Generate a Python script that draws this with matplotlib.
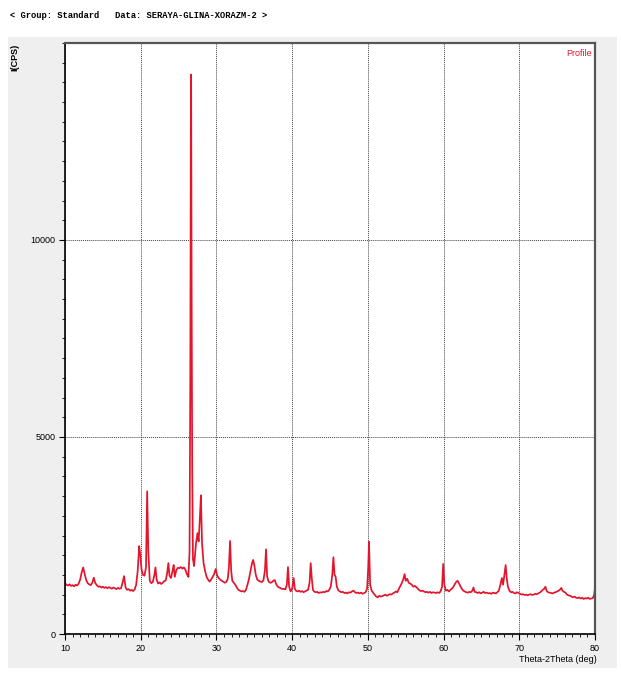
import matplotlib
matplotlib.use("Agg")
import matplotlib.pyplot as plt
import matplotlib.patches as mpatches
from matplotlib.ticker import MultipleLocator

# ---------------------------- data ----------------------------
two_theta = [
    10.0, 10.2, 10.4, 10.6, 10.8, 11.0, 11.2, 11.4, 11.6, 11.8,
    12.0, 12.2, 12.4, 12.6, 12.8, 13.0, 13.2, 13.4, 13.6, 13.8, 14.0, 14.2, 14.4,
    14.6, 14.8, 15.0, 15.2, 15.4, 15.6, 15.8, 16.0, 16.2, 16.4, 16.6, 16.8, 17.0, 17.2, 17.4,
    17.6, 17.8, 18.0, 18.2, 18.4, 18.6, 18.8, 19.0, 19.2, 19.4, 19.6,
    19.8, 19.95, 20.1, 20.3, 20.5, 20.7, 20.85, 21.0, 21.2, 21.4,
    21.6, 21.8, 21.95, 22.1, 22.3, 22.5, 22.7, 22.9, 23.1, 23.3,
    23.5, 23.65, 23.8, 24.0, 24.2, 24.35, 24.5, 24.7, 24.9, 25.1, 25.3, 25.5, 25.7, 25.9, 26.1, 26.3,
    26.45, 26.55, 26.62, 26.66, 26.72, 26.8, 26.9, 27.05, 27.3, 27.5, 27.65, 27.8, 27.95,
    28.1, 28.3, 28.5, 28.7, 28.9, 29.1,
    29.3, 29.5, 29.7, 29.9, 30.1, 30.3, 30.5, 30.7, 30.9, 31.1, 31.3, 31.5,
    31.65, 31.8, 31.95, 32.1, 32.3, 32.5, 32.7, 32.9, 33.1, 33.3, 33.5, 33.7, 33.9,
    34.1, 34.3, 34.5, 34.7, 34.85, 35.0, 35.2, 35.4, 35.6, 35.8, 36.0, 36.2,
    36.4, 36.55, 36.7, 36.9, 37.1, 37.3, 37.5, 37.7, 37.9, 38.1, 38.3, 38.5, 38.7, 38.9, 39.1,
    39.3, 39.45, 39.6, 39.8, 40.0, 40.2, 40.35, 40.5, 40.7, 40.9, 41.1, 41.3, 41.5, 41.7, 41.9, 42.1, 42.3,
    42.45, 42.6, 42.75, 42.9, 43.1, 43.3, 43.5, 43.7, 43.9, 44.1, 44.3, 44.5, 44.7, 44.9, 45.1, 45.3,
    45.45, 45.6, 45.75, 45.9, 46.1, 46.3, 46.5, 46.7, 46.9, 47.1, 47.3, 47.5,
    47.7, 47.9, 48.1, 48.3, 48.5, 48.7, 48.9, 49.1, 49.3, 49.5, 49.7, 49.9,
    50.05, 50.15, 50.3, 50.5, 50.7, 50.9, 51.1, 51.3, 51.5, 51.7, 51.9, 52.1,
    52.3, 52.5, 52.7, 52.9, 53.1, 53.3, 53.5, 53.7, 53.9, 54.1, 54.3, 54.5,
    54.7, 54.85, 55.0, 55.2, 55.4, 55.6, 55.8, 56.0, 56.2, 56.4, 56.6, 56.8, 57.0,
    57.2, 57.4, 57.6, 57.8, 58.0, 58.2, 58.4, 58.6, 58.8, 59.0, 59.2, 59.4, 59.6,
    59.8, 59.95, 60.1, 60.3, 60.5, 60.7, 60.9, 61.1, 61.3, 61.5, 61.7, 61.85, 62.0,
    62.2, 62.4, 62.6, 62.8, 63.0, 63.2, 63.4, 63.6, 63.8, 63.95, 64.1, 64.3,
    64.5, 64.7, 64.9, 65.1, 65.3, 65.5, 65.7, 65.9, 66.1, 66.3, 66.5, 66.7, 66.9, 67.1, 67.3, 67.5,
    67.7, 67.85, 68.0, 68.2, 68.35, 68.5, 68.7, 68.9, 69.1, 69.3, 69.5, 69.7, 69.9,
    70.1, 70.3, 70.5, 70.7, 70.9, 71.1, 71.3, 71.5, 71.7, 71.9, 72.1, 72.3, 72.5, 72.7, 72.9, 73.1, 73.3,
    73.45, 73.6, 73.8, 74.0, 74.2, 74.4, 74.6, 74.8, 75.0, 75.2, 75.4, 75.55, 75.7, 75.9, 76.1, 76.3,
    76.5, 76.7, 76.9,
    77.1, 77.3, 77.5, 77.7, 77.9, 78.1, 78.3, 78.5, 78.7, 78.9, 79.1, 79.3, 79.5, 79.7, 79.9, 80.0,
]
intensity = [
    1290, 1250, 1230, 1260, 1220, 1240, 1210, 1250, 1230, 1280,
    1380, 1560, 1690, 1520, 1370, 1290, 1260, 1240, 1300, 1430, 1290, 1240, 1200,
    1210, 1180, 1200, 1170, 1190, 1160, 1190, 1170, 1150, 1180, 1160, 1140, 1170, 1150, 1160,
    1300, 1470, 1180, 1120, 1140, 1100, 1120, 1090, 1130, 1250, 1600,
    2230, 2000, 1650, 1500, 1480, 1700, 3620, 2100, 1350, 1290,
    1320, 1500, 1690, 1380, 1280, 1310, 1270, 1300, 1340, 1360,
    1550, 1800, 1480, 1420, 1600, 1750, 1450, 1620, 1680, 1670, 1700, 1660, 1690, 1630, 1520, 1450,
    2100, 6500, 13000, 14200, 9000, 4200, 1900, 1725, 2300, 2560, 2350, 2900, 3520,
    2300, 1800, 1600, 1450, 1380, 1330,
    1380, 1450, 1520, 1650, 1480, 1420, 1380, 1350, 1330, 1300, 1320, 1400,
    1700, 2360, 1600, 1350, 1300, 1250, 1180, 1120, 1100, 1080, 1090, 1070, 1120,
    1250, 1400, 1600, 1800, 1880, 1750, 1500, 1380, 1350, 1330, 1320, 1360,
    1600, 2150, 1450, 1330, 1300, 1310, 1350, 1370, 1260, 1200, 1180, 1160, 1140, 1150, 1130,
    1250, 1700, 1200, 1080, 1150, 1420, 1150, 1100, 1080, 1100, 1070, 1090, 1060, 1080, 1100, 1120, 1300,
    1800, 1400, 1120, 1080, 1060, 1070, 1040, 1060, 1050, 1070, 1060, 1090, 1080, 1120, 1200, 1500,
    1950, 1500, 1450, 1200, 1110, 1080, 1060, 1070, 1040, 1050, 1030, 1060,
    1050, 1080, 1100, 1060, 1040, 1050, 1030, 1050, 1020, 1040, 1060, 1150,
    1700, 2340, 1250, 1100, 1050, 1000, 950, 930, 970, 950, 960, 980,
    1000, 970, 990, 1010, 1000, 1030, 1050, 1080, 1060, 1150, 1220, 1300,
    1400, 1520, 1350, 1400, 1300, 1280, 1250, 1200, 1220, 1190, 1150, 1110, 1090,
    1100, 1080, 1060, 1070, 1050, 1070, 1040, 1060, 1050, 1040, 1060, 1040, 1080,
    1200, 1780, 1250, 1100, 1120, 1080, 1120, 1150, 1200, 1270, 1330, 1350, 1300,
    1220, 1150, 1100, 1080, 1060, 1050, 1070, 1060, 1100, 1180, 1070, 1060,
    1040, 1060, 1030, 1050, 1070, 1040, 1050, 1030, 1040, 1020, 1050, 1040, 1030, 1060, 1100, 1250,
    1420, 1250, 1450, 1750, 1400, 1200, 1100, 1060, 1070, 1040, 1030, 1060, 1040,
    1020, 1000, 1010, 990, 1000, 980, 1000, 1010, 990, 1000, 1020, 1010, 1030, 1050, 1080, 1120, 1150,
    1200, 1100, 1060, 1050, 1040, 1030, 1050, 1060, 1080, 1100, 1130, 1170, 1100, 1070, 1050, 1000,
    980, 970, 950,
    930, 950, 920, 910, 930, 900, 920, 890, 910, 900, 920, 890, 900, 910, 1000, 1170,
]

x_ticks = [10, 20, 30, 40, 50, 60, 70, 80]
y_ticks = [0, 5000, 10000]

header = "< Group: Standard   Data: SERAYA-GLINA-XORAZM-2 >"
narrow = ["Liberation Sans Narrow", "Liberation Sans", "DejaVu Sans"]

# ---------------------------------- figure ----------------------------------
fig = plt.figure(figsize=(6.22, 6.76), dpi=100, facecolor="w")

# grey panel behind the plot
panel = mpatches.Rectangle((8 / 622, 8 / 676), 609 / 622, 631 / 676,
                           transform=fig.transFigure, facecolor="#efefef",
                           edgecolor="none", zorder=-5)
fig.patches.append(panel)

fig.text(10 / 622, 661 / 676, header, family=["Liberation Mono", "DejaVu Sans Mono"],
         fontweight="bold", fontsize=6.3, va="center", ha="left")

ax = fig.add_axes([65 / 622, 42 / 676, 530 / 622, 591 / 676], zorder=2)
ax.set_facecolor("white")
ax.plot(two_theta, intensity, color="#e3142c", linewidth=1.25)

ax.set_xlim(10, 80)
ax.set_ylim(0, 15000)
ax.set_xticks(x_ticks)
ax.set_yticks(y_ticks)
ax.xaxis.set_minor_locator(MultipleLocator(1))
ax.yaxis.set_minor_locator(MultipleLocator(500))
ax.tick_params(which="major", direction="out", length=4, width=0.8, labelsize=6.5, pad=3)
ax.tick_params(which="minor", direction="out", length=2.5, width=0.6)
for lab in ax.get_xticklabels() + ax.get_yticklabels():
    lab.set_family(narrow)

ax.grid(True, which="major", linestyle=(0, (1, 1)), color="#444444", linewidth=0.7)

ax.spines["left"].set_linewidth(1.2)
ax.spines["bottom"].set_linewidth(1.2)
ax.spines["top"].set_color("#555555")
ax.spines["right"].set_color("#555555")
ax.spines["top"].set_linewidth(1.6)
ax.spines["right"].set_linewidth(1.6)

ax.text(0.995, 0.99, "Profile", transform=ax.transAxes, color="#e3142c",
        fontsize=6.5, ha="right", va="top", family=narrow)

fig.text(15 / 622, 619 / 676, "I(CPS)", rotation=90, fontsize=6.5,
         fontweight="bold", ha="center", va="center", family=narrow)
fig.text(597 / 622, 16 / 676, "Theta-2Theta (deg)", fontsize=6.5, ha="right",
         va="center", family=narrow)

plt.savefig("out.png", dpi=100)
